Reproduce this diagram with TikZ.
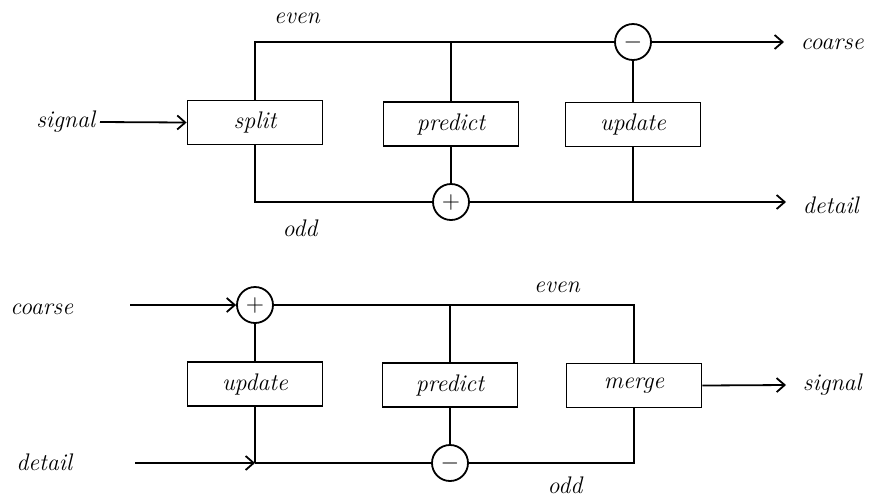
\documentclass[tikz,border=0pt]{standalone}
\usetikzlibrary{arrows.meta}
\begin{document}
\begin{tikzpicture}[x=0.5pt,y=-0.5pt,
  line width=0.9pt,
  blk/.style={draw,minimum width=67.5pt,minimum height=22pt,inner sep=0pt,
              font=\fontsize{12}{14}\selectfont\itshape},
  sum/.style={draw,circle,minimum size=18pt,inner sep=0pt,font=\fontsize{12}{14}\selectfont},
  lbl/.style={inner sep=0pt,font=\fontsize{12}{14}\selectfont\itshape},
  arr/.style={-{Straight Barb[length=4pt,width=7pt,line width=0.9pt]}}]
\useasboundingbox (0,0) rectangle (869,495);

% ---- analysis stage: split / predict / update ----
\node[blk] (split) at (255,122.5) {split};
\node[blk] (pred) at (451,124) {predict};
\node[blk] (upd) at (633,124.5) {update};
\node[sum] (sub) at (633,42) {$-$};
\node[sum] (add) at (451,202) {$+$};
\node[lbl,anchor=east] (sig) at (96,122) {signal};
\node[lbl,anchor=west] (coarse) at (800,44) {coarse};
\node[lbl,anchor=west] (det) at (802,205) {detail};
\node[lbl] (even) at (297,18) {even};
\node[lbl] (odd) at (300,228) {odd};

\draw[arr] (sig.east) ++(4,0) -- (split.west);
\draw (split.north) |- (sub.west);
\coordinate (pj) at (pred.north |- sub.west);
\draw (pred.north) -- (pj);
\draw (split.south) |- (add.west);
\draw (pred.south) -- (add.north);
\draw (upd.north) -- (sub.south);
\coordinate (uj) at (upd.south |- add.east);
\draw (upd.south) -- (uj);
\draw[arr] (add.east) -- ([xshift=-8]det.west |- add.east);
\draw[arr] (sub.east) -- ([xshift=-8]coarse.west |- sub.east);

% ---- synthesis stage: update / predict / merge ----
\node[sum] (add2) at (255,305) {$+$};
\node[blk] (upd2) at (255,384) {update};
\node[blk] (pred2) at (450,385) {predict};
\node[blk] (merge) at (634,385.5) {merge};
\node[sum] (sub2) at (450,463) {$-$};
\node[lbl,anchor=east] (coarse2) at (74,309) {coarse};
\node[lbl,anchor=east] (det2) at (73,462) {detail};
\node[lbl,anchor=west] (sig2) at (802,385) {signal};
\node[lbl] (even2) at (557,287) {even};
\node[lbl] (odd2) at (565,485) {odd};

\draw[arr] ([xshift=28]coarse2.east |- add2.west) -- (add2.west);
\draw (add2.south) -- (upd2.north);
\coordinate (dj) at (upd2.south |- sub2.west);
\draw (upd2.south) -- (dj);
\draw[arr] ([xshift=31]det2.east |- sub2.west) -- (dj);
\draw (dj) -- (sub2.west);
\draw (add2.east) -| (merge.north);
\coordinate (pj2) at (pred2.north |- add2.east);
\draw (pred2.north) -- (pj2);
\draw (pred2.south) -- (sub2.north);
\draw (sub2.east) -| (merge.south);
\draw[arr] (merge.east) -- ([xshift=-8]sig2.west);
\end{tikzpicture}
\end{document}
